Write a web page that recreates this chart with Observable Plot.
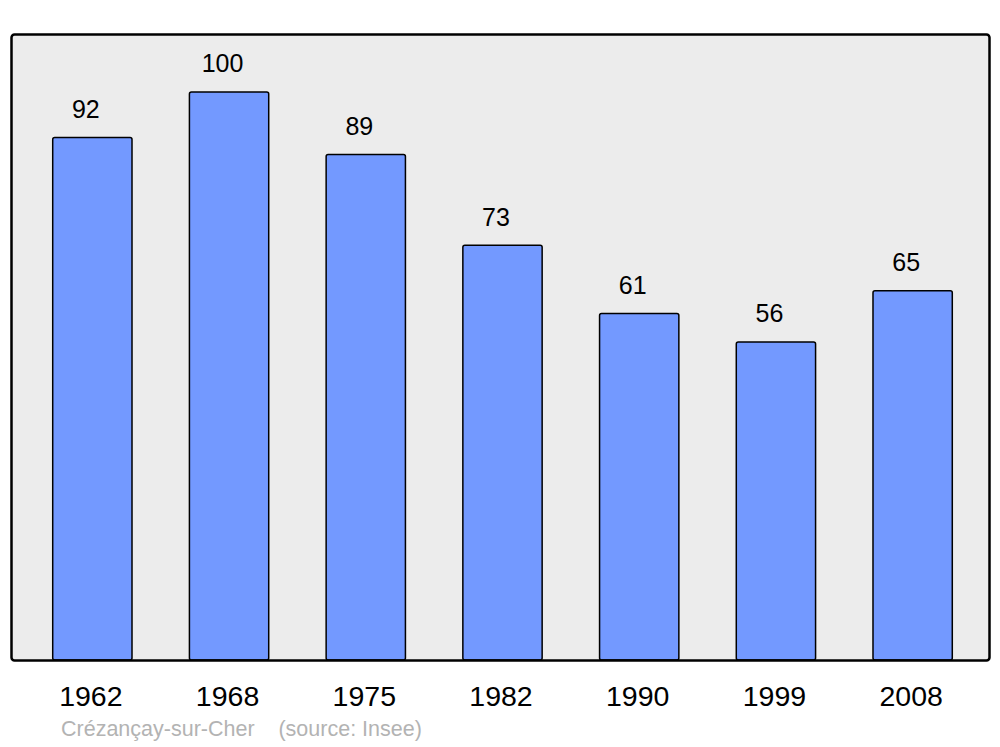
<!DOCTYPE html>
<html>
<head>
<meta charset="utf-8">
<script src="https://cdn.jsdelivr.net/npm/d3@7"></script>
<script src="https://cdn.jsdelivr.net/npm/@observablehq/plot@0.6"></script>
<style>
  html, body { margin: 0; padding: 0; background: #fff; }
  #chart svg { display: block; font-family: "Liberation Sans", Arial, sans-serif; }
  #caption { font-family: "Liberation Sans", Arial, sans-serif; font-size: 21.5px; color: #b3b3b3; height: 35px; line-height: 35px; padding-left: 61px; white-space: pre; }
</style>
</head>
<body>
<div id="chart"></div>
<div id="caption"></div>
<script>
const years = ["1962", "1968", "1975", "1982", "1990", "1999", "2008"];
const population = [92, 100, 89, 73, 61, 56, 65];
const captionText = "Crézançay-sur-Cher    (source: Insee)";

const data = years.map((y, i) => ({year: y, value: population[i]}));

const chart = Plot.plot({
  width: 1000,
  height: 712,
  marginLeft: 11,
  marginRight: 11,
  marginTop: 34,
  marginBottom: 52,
  style: {fontFamily: "'Liberation Sans', Arial, sans-serif", background: "transparent"},
  x: {domain: years, range: [24, 981], paddingInner: 0.42, paddingOuter: 0.21, round: false, label: null},
  y: {domain: [0, 110.2], axis: null},
  marks: [
    Plot.frame({fill: "#ececec", stroke: "none", rx: 3}),
    Plot.barY(data, {x: "year", y: "value", fill: "#7399ff", stroke: "black", strokeWidth: 1.5, rx: 2}),
    Plot.text(data, {x: "year", y: "value", text: d => String(d.value), dy: -28, dx: -7, fontSize: 25, fill: "black"}),
    Plot.frame({stroke: "black", strokeWidth: 2.5, rx: 3}),
    Plot.axisX({tickSize: 0, tickPadding: 25, fontSize: 28.5, dx: -2, label: null, fill: "black"})
  ]
});
document.getElementById("chart").appendChild(chart);
document.getElementById("caption").textContent = captionText;
</script>
</body>
</html>
